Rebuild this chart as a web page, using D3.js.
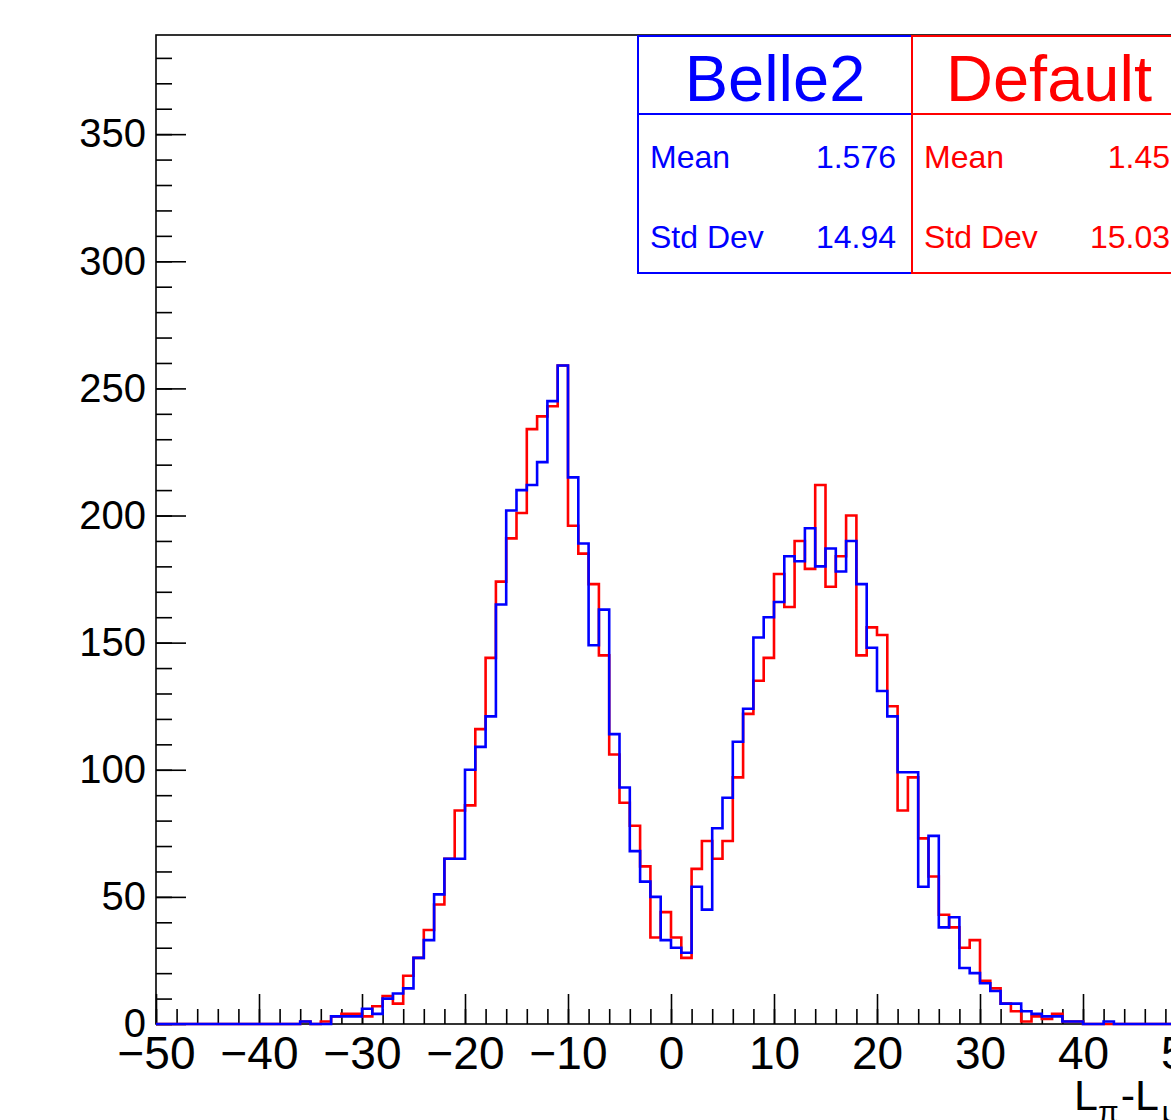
<!DOCTYPE html>
<html>
<head>
<meta charset="utf-8">
<script src="https://cdn.jsdelivr.net/npm/d3@7"></script>
<style>
  body { margin: 0; background: #fff; }
  svg { display: block; font-family: "Liberation Sans", Arial, sans-serif; }
</style>
</head>
<body>
<svg id="chart" width="1171" height="1120"></svg>
<script>
// Histogram bins: 1-unit wide, from -50 to 50
const binLow = d3.range(-50, 50);

// Belle2 (blue) bin contents, bin -50 ... bin 49
const belle2Counts = [
  0, 0, 0, 0, 0, 0, 0, 0, 0, 0, 0, 0, 0, 0,
  1, 0, 0, 3, 3, 3, 6, 4, 10, 12, 14, 26, 33, 51, 65, 65,
  100, 109, 121, 165, 202, 210, 212, 221, 245, 259,
  215, 189, 149, 163, 114, 93, 68, 56, 50, 33,
  30, 28, 54, 45, 77, 89, 111, 124, 152, 160,
  166, 184, 182, 195, 180, 187, 178, 190, 173, 148,
  131, 121, 99, 99, 54, 74, 38, 42, 22, 20,
  16, 13, 8, 8, 5, 4, 3, 3, 1, 1,
  0, 0, 1, 0, 0, 0, 0, 0, 0, 0
];

// Default (red) bin contents, bin -50 ... bin 49
const defaultCounts = [
  0, 0, 0, 0, 0, 0, 0, 0, 0, 0, 0, 0, 0, 0,
  1, 0, 1, 3, 4, 4, 3, 7, 11, 8, 19, 26, 37, 47, 65, 84,
  86, 116, 144, 174, 191, 201, 234, 239, 243, 259,
  196, 185, 173, 145, 106, 87, 78, 62, 34, 44,
  34, 26, 61, 72, 65, 72, 97, 122, 135, 144,
  177, 164, 190, 179, 212, 172, 184, 200, 145, 156,
  153, 125, 84, 97, 73, 58, 43, 38, 30, 33,
  17, 14, 8, 5, 1, 3, 2, 4, 1, 1,
  0, 0, 0, 0, 0, 0, 0, 0, 0, 0
];

const xMajorTicks = [-50, -40, -30, -20, -10, 0, 10, 20, 30, 40, 50];
const xMinorTicks = d3.range(-50, 51, 2);
const yMajorTicks = [0, 50, 100, 150, 200, 250, 300, 350];
const yMinorTicks = d3.range(0, 390, 10);

const belle2Stats = [["Mean", "1.576"], ["Std Dev", "14.94"]];
const defaultStats = [["Mean", "1.45"], ["Std Dev", "15.03"]];

const svg = d3.select("#chart");

// frame runs past the right edge of the picture (cropped plot)
const frame = { left: 156, right: 1186, top: 35, bottom: 1024 };

const x = d3.scaleLinear().domain([-50, 50]).range([frame.left, frame.right]);
const y = d3.scaleLinear().domain([0, 389]).range([frame.bottom, frame.top]);

// Frame
svg.append("rect")
  .attr("x", frame.left)
  .attr("y", frame.top)
  .attr("width", frame.right - frame.left)
  .attr("height", frame.bottom - frame.top)
  .attr("fill", "none")
  .attr("stroke", "#000")
  .attr("stroke-width", 1.6);

// X axis: major ticks with labels, minor ticks without
const xMinor = svg.append("g")
  .attr("transform", `translate(0,${frame.bottom})`)
  .call(d3.axisBottom(x).tickValues(xMinorTicks).tickSizeInner(-15).tickSizeOuter(0).tickFormat(""));

const xMajor = svg.append("g")
  .attr("transform", `translate(0,${frame.bottom})`)
  .call(d3.axisBottom(x).tickValues(xMajorTicks).tickSizeInner(-30).tickSizeOuter(0).tickPadding(12));

xMajor.selectAll("text")
  .attr("font-size", 46)
  .attr("fill", "#000")
  .attr("font-family", "Liberation Sans, Arial, sans-serif");

// Y axis
const yMinor = svg.append("g")
  .attr("transform", `translate(${frame.left},0)`)
  .call(d3.axisLeft(y).tickValues(yMinorTicks).tickSizeInner(-16).tickSizeOuter(0).tickFormat(""));

const yMajor = svg.append("g")
  .attr("transform", `translate(${frame.left},0)`)
  .call(d3.axisLeft(y).tickValues(yMajorTicks).tickSizeInner(-30).tickSizeOuter(0).tickPadding(10));

yMajor.selectAll("text")
  .attr("font-size", 40)
  .attr("fill", "#000")
  .attr("font-family", "Liberation Sans, Arial, sans-serif");

[xMinor, xMajor, yMinor, yMajor].forEach((g) => {
  g.select(".domain").remove();
  g.selectAll("line").attr("stroke", "#000").attr("stroke-width", 1.6);
});

// Histograms as step outlines
function histPoints(counts) {
  const pts = binLow.map((b, i) => [b, counts[i]]);
  pts.push([50, counts[counts.length - 1]]);
  return pts;
}

const step = d3.line()
  .x((d) => x(d[0]))
  .y((d) => y(d[1]))
  .curve(d3.curveStepAfter);

svg.append("path")
  .datum(histPoints(defaultCounts))
  .attr("fill", "none")
  .attr("stroke", "#ff0000")
  .attr("stroke-width", 2.6)
  .attr("d", step);

svg.append("path")
  .datum(histPoints(belle2Counts))
  .attr("fill", "none")
  .attr("stroke", "#0000ff")
  .attr("stroke-width", 2.6)
  .attr("d", step);

// Stats boxes
function statsBox(x0, title, stats, color) {
  const w = 274, top = 36, bottom = 273, sep = 114;
  const g = svg.append("g");
  g.append("rect")
    .attr("x", x0).attr("y", top)
    .attr("width", w).attr("height", bottom - top)
    .attr("fill", "#fff")
    .attr("stroke", color)
    .attr("stroke-width", 2);
  g.append("line")
    .attr("x1", x0).attr("x2", x0 + w)
    .attr("y1", sep).attr("y2", sep)
    .attr("stroke", color)
    .attr("stroke-width", 2);
  g.append("text")
    .attr("x", x0 + w / 2)
    .attr("y", 101)
    .attr("text-anchor", "middle")
    .attr("font-size", 65)
    .attr("fill", color)
    .text(title);
  stats.forEach((s, i) => {
    const yy = 168 + i * 80;
    g.append("text")
      .attr("x", x0 + 12).attr("y", yy)
      .attr("font-size", 32)
      .attr("fill", color)
      .text(s[0]);
    g.append("text")
      .attr("x", x0 + w - 16).attr("y", yy)
      .attr("text-anchor", "end")
      .attr("font-size", 32)
      .attr("fill", color)
      .text(s[1]);
  });
}

statsBox(638, "Belle2", belle2Stats, "#0000ff");
statsBox(912, "Default", defaultStats, "#ff0000");

// X axis title (cut at the right edge)
const xt = svg.append("text")
  .attr("x", 1074)
  .attr("y", 1110)
  .attr("font-size", 43)
  .attr("fill", "#000");
xt.append("tspan").text("L");
xt.append("tspan").attr("font-size", 30).attr("dy", 12).text("π");
xt.append("tspan").attr("dy", -12).attr("dx", 2).text("-L");
xt.append("tspan").attr("font-size", 30).attr("dy", 12).attr("dx", 3).text("μ");
</script>
</body>
</html>
